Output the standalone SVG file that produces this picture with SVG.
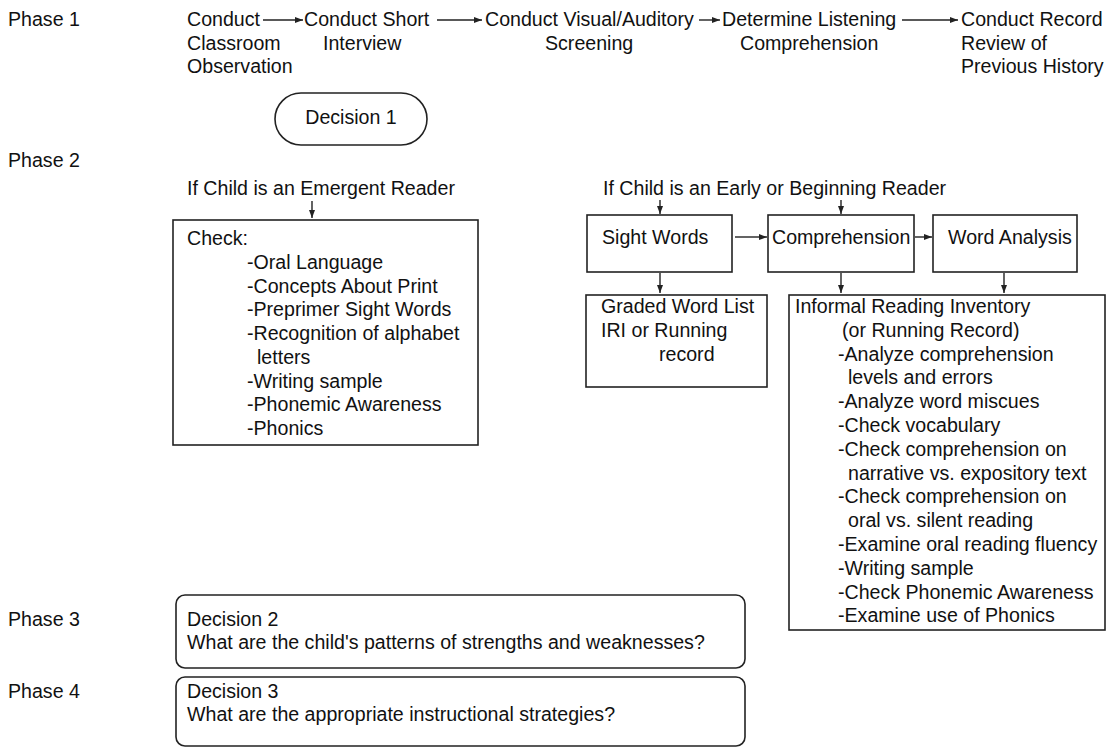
<svg xmlns="http://www.w3.org/2000/svg" width="1110" height="748" viewBox="0 0 1110 748">
<style>
text{font-family:"Liberation Sans",Arial,Helvetica,sans-serif;font-size:19.6px;fill:#111}
.box{fill:none;stroke:#222;stroke-width:1.6}
.con{fill:none;stroke:#222;stroke-width:1.4}
</style>
<defs>
<marker id="ah" viewBox="0 0 10 10" refX="10" refY="5" markerWidth="8" markerHeight="6" preserveAspectRatio="none" markerUnits="userSpaceOnUse" orient="auto"><path d="M0,0 L10,5 L0,10 z" fill="#222"/></marker>
</defs>
<rect width="1110" height="748" fill="#fff"/>
<g id="phases">
<text x="8" y="26">Phase 1</text>
<text x="8" y="167">Phase 2</text>
<text x="8" y="626">Phase 3</text>
<text x="8" y="698">Phase 4</text>
</g>
<g id="n-observation"><text x="187" y="26">Conduct</text><text x="187" y="49.5">Classroom</text><text x="187" y="73">Observation</text></g>
<g id="n-interview"><text x="304" y="26">Conduct Short</text><text x="323" y="49.5">Interview</text></g>
<g id="n-screening"><text x="485" y="26">Conduct Visual/Auditory</text><text x="545" y="49.5">Screening</text></g>
<g id="n-listening"><text x="722" y="26">Determine Listening</text><text x="740" y="49.5">Comprehension</text></g>
<g id="n-record"><text x="961" y="26">Conduct Record</text><text x="961" y="49.5">Review of</text><text x="961" y="73">Previous History</text></g>
<g id="n-decision1"><rect class="box" x="275" y="93" width="152" height="52" rx="26"/><text x="351" y="124" text-anchor="middle">Decision 1</text></g>
<g id="n-emergent-label"><text x="187" y="195">If Child is an Emergent Reader</text></g>
<g id="n-early-label"><text x="603" y="195">If Child is an Early or Beginning Reader</text></g>
<g id="n-check">
<rect class="box" x="173" y="220" width="305" height="225"/>
<text x="187" y="245">Check:</text>
<text x="247" y="268.75">-Oral Language</text>
<text x="247" y="292.5">-Concepts About Print</text>
<text x="247" y="316.25">-Preprimer Sight Words</text>
<text x="247" y="340">-Recognition of alphabet</text>
<text x="257" y="363.75">letters</text>
<text x="247" y="387.5">-Writing sample</text>
<text x="247" y="411.25">-Phonemic Awareness</text>
<text x="247" y="435">-Phonics</text>
</g>
<g id="n-sight"><rect class="box" x="587" y="215" width="145" height="57"/><text x="602" y="244">Sight Words</text></g>
<g id="n-comp"><rect class="box" x="768" y="215" width="146" height="57"/><text x="772" y="244">Comprehension</text></g>
<g id="n-word"><rect class="box" x="933" y="215" width="144" height="57"/><text x="948" y="244">Word Analysis</text></g>
<g id="n-graded">
<rect class="box" x="586" y="295" width="181" height="92"/>
<text x="601" y="313">Graded Word List</text>
<text x="601" y="337">IRI or Running</text>
<text x="659" y="361">record</text>
</g>
<g id="n-iri">
<rect class="box" x="789" y="295" width="316" height="335"/>
<text x="795" y="313">Informal Reading Inventory</text>
<text x="842" y="336.8">(or Running Record)</text>
<text x="838" y="360.6">-Analyze comprehension</text>
<text x="848" y="384.4">levels and errors</text>
<text x="838" y="408.2">-Analyze word miscues</text>
<text x="838" y="432">-Check vocabulary</text>
<text x="838" y="455.8">-Check comprehension on</text>
<text x="848" y="479.6">narrative vs. expository text</text>
<text x="838" y="503.4">-Check comprehension on</text>
<text x="848" y="527.2">oral vs. silent reading</text>
<text x="838" y="551">-Examine oral reading fluency</text>
<text x="838" y="574.8">-Writing sample</text>
<text x="838" y="598.6">-Check Phonemic Awareness</text>
<text x="838" y="622.4">-Examine use of Phonics</text>
</g>
<g id="n-decision2"><rect class="box" x="176" y="595" width="569" height="73" rx="9"/><text x="187" y="626">Decision 2</text><text x="187" y="649">What are the child's patterns of strengths and weaknesses?</text></g>
<g id="n-decision3"><rect class="box" x="176" y="677" width="569" height="69" rx="9"/><text x="187" y="698">Decision 3</text><text x="187" y="721">What are the appropriate instructional strategies?</text></g>
<g id="connectors" class="con" marker-end="url(#ah)">
<line x1="263" y1="20" x2="303" y2="20"/>
<line x1="437" y1="20" x2="482" y2="20"/>
<line x1="699" y1="20" x2="720" y2="20"/>
<line x1="902" y1="20" x2="958" y2="20"/>
<line x1="312" y1="201" x2="312" y2="218"/>
<line x1="660" y1="200" x2="660" y2="214"/>
<line x1="841" y1="200" x2="841" y2="214"/>
<line x1="735" y1="237" x2="767" y2="237"/>
<line x1="915" y1="237" x2="932" y2="237"/>
<line x1="660" y1="273" x2="660" y2="293"/>
<line x1="841" y1="273" x2="841" y2="293"/>
<line x1="1004" y1="273" x2="1004" y2="293"/>
</g>
</svg>
